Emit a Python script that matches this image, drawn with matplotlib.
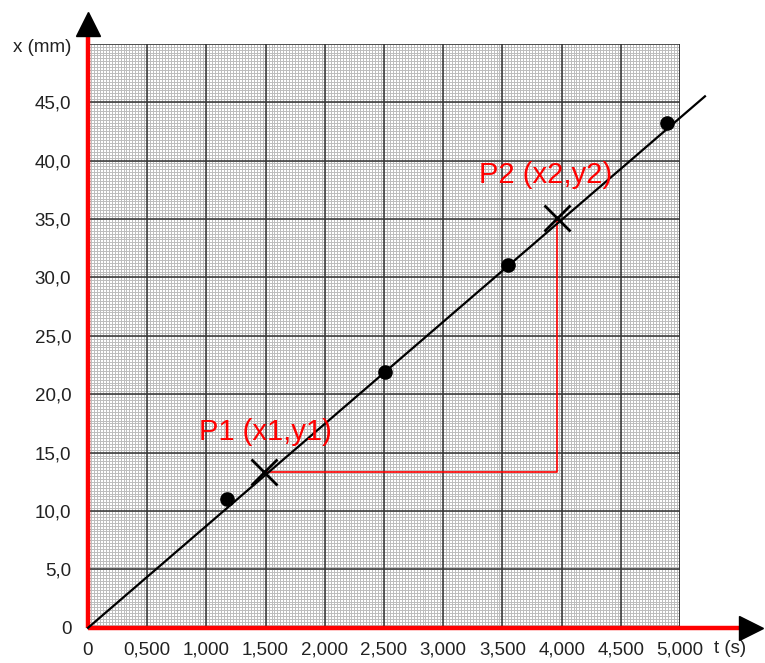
import matplotlib.pyplot as plt
import numpy as np

plt.rcParams['font.family'] = ['Liberation Sans', 'DejaVu Sans']

# measured points
t_pts = [1.17, 2.51, 3.55, 4.89]
x_pts = [11.0, 21.9, 31.1, 43.2]

# fitted line
line_t = [0.0, 5.21]
line_x = [0.0, 45.5]

# chosen points on the line
p1 = (1.49, 13.3)
p2 = (3.96, 35.1)

xticks = [0, 0.5, 1.0, 1.5, 2.0, 2.5, 3.0, 3.5, 4.0, 4.5, 5.0]
xlabels = ['0', '0,500', '1,000', '1,500', '2,000', '2,500', '3,000',
           '3,500', '4,000', '4,500', '5,000']
yticks = [0, 5, 10, 15, 20, 25, 30, 35, 40, 45]
ylabels = ['0', '5,0', '10,0', '15,0', '20,0', '25,0', '30,0', '35,0',
           '40,0', '45,0']

fig = plt.figure(figsize=(7.65, 6.63), dpi=100)
ax = fig.add_axes([0.115, 0.053, 0.774, 0.881])
ax.set_xlim(0, 5)
ax.set_ylim(0, 50)

# millimetre paper
for v in np.arange(0, 5.0001, 0.025):
    ax.axvline(v, color='#bcbcbc', lw=0.7, zorder=0)
for v in np.arange(0, 50.0001, 0.25):
    ax.axhline(v, color='#bcbcbc', lw=0.7, zorder=0)
for v in xticks + [5.0]:
    ax.axvline(v, color='#333333', lw=1.1, zorder=1)
for v in yticks + [50]:
    ax.axhline(v, color='#333333', lw=1.1, zorder=1)

for s in ax.spines.values():
    s.set_visible(False)

ax.set_xticks(xticks)
ax.set_xticklabels(xlabels, fontsize=13.5, color='#222222')
ax.set_yticks(yticks)
ax.set_yticklabels(ylabels, fontsize=13.5, color='#222222')
ax.tick_params(length=0)
ax.tick_params(axis='x', pad=10)
ax.tick_params(axis='y', pad=12)

# red axes with black arrow heads
ax.plot([0, 5.52], [0, 0], color='#ff0000', lw=3.2, clip_on=False, zorder=5,
        solid_capstyle='butt')
ax.plot([0, 0], [0, 50.8], color='#ff0000', lw=3.2, clip_on=False, zorder=5,
        solid_capstyle='butt')
ax.plot(5.60, 0, marker='>', ms=17, color='black', clip_on=False, zorder=6)
ax.plot(0, 51.7, marker='^', ms=17, color='black', clip_on=False, zorder=6)
ax.text(5.42, -1.75, 't (s)', fontsize=13.5, color='#222222', ha='center', va='center')
ax.text(-0.39, 49.7, 'x (mm)', fontsize=13.5, color='#222222', ha='center', va='center')

# fit line and data
ax.plot(line_t, line_x, color='black', lw=1.6, clip_on=False, zorder=7)
ax.plot(t_pts, x_pts, 'o', color='black', ms=9.5, zorder=8)

# slope triangle
ax.plot([p1[0], p2[0], p2[0]], [p1[1], p1[1], p2[1]], color='#ff0000', lw=1.2, zorder=6)
ax.plot([p1[0], p2[0]], [p1[1], p2[1]], 'x', color='black', ms=19, mew=2.0, zorder=9)
ax.text(1.50, 16.8, 'P1 (x1,y1)', color='#ff0000', fontsize=21, ha='center', va='center', zorder=9)
ax.text(3.86, 38.8, 'P2 (x2,y2)', color='#ff0000', fontsize=21, ha='center', va='center', zorder=9)

fig.savefig('out.png', dpi=100)
